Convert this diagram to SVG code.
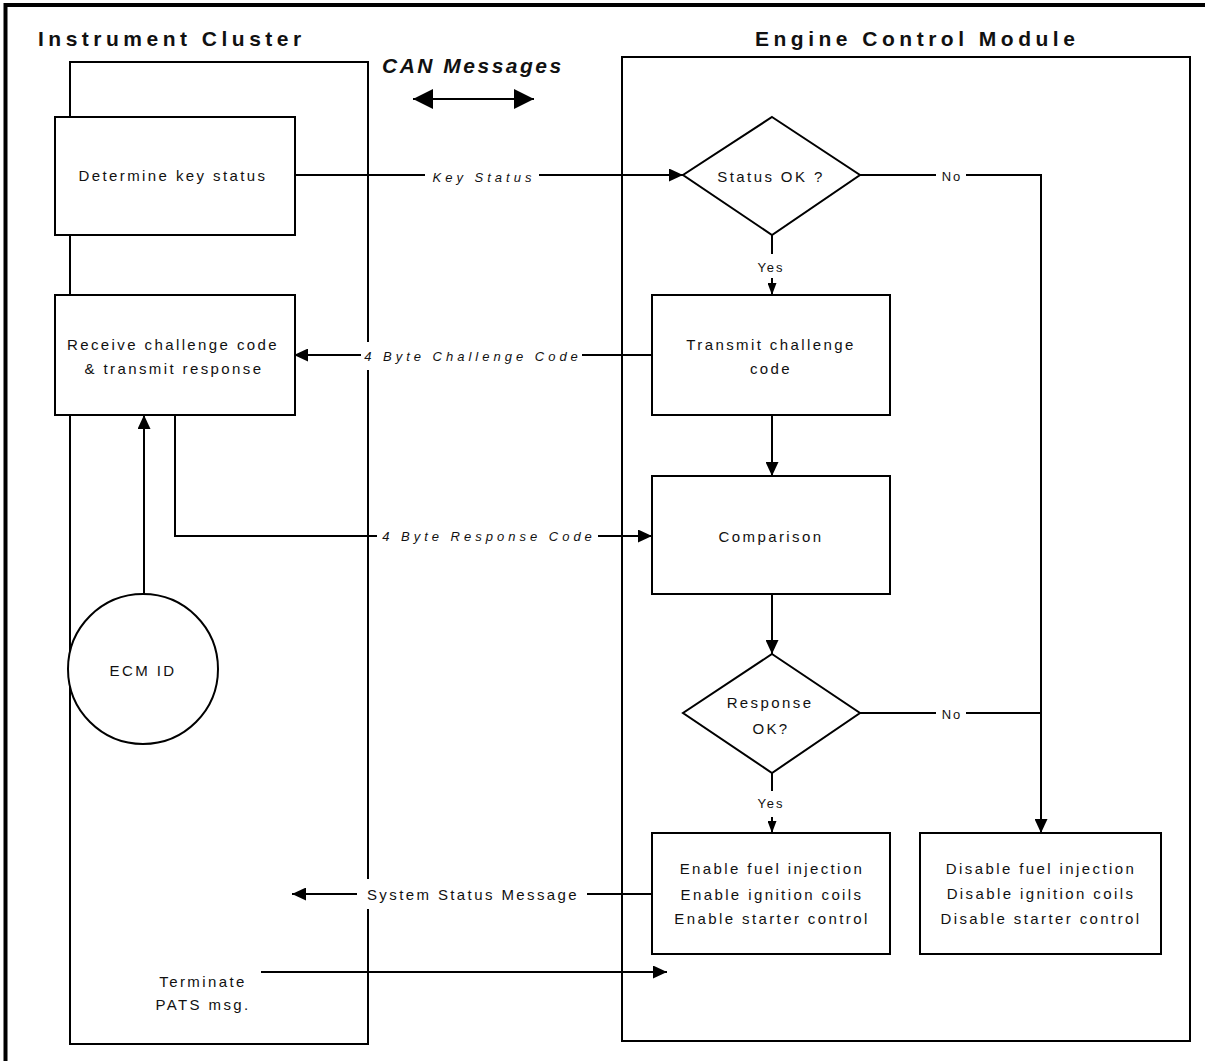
<svg xmlns="http://www.w3.org/2000/svg" width="1205" height="1061" viewBox="0 0 1205 1061">
<style>
  .box { fill: #fff; stroke: #000; stroke-width: 2; }
  .lane { fill: none; stroke: #000; stroke-width: 2; }
  .conn { fill: none; stroke: #000; stroke-width: 2; }
  .t { font-family: "Liberation Sans", Arial, sans-serif; font-size: 15px; letter-spacing: 2.4px; fill: #111; text-anchor: middle; }
  .lbl { font-family: "Liberation Sans", Arial, sans-serif; font-size: 13px; font-style: italic; letter-spacing: 4px; fill: #111; text-anchor: middle; }
  .yn { font-family: "Liberation Sans", Arial, sans-serif; font-size: 13px; letter-spacing: 2px; fill: #111; text-anchor: middle; }
  .title { font-family: "Liberation Sans", Arial, sans-serif; font-size: 21px; font-weight: bold; letter-spacing: 4.5px; fill: #111; }
  .bg { fill: #fff; stroke: none; }
</style>
<defs>
  <marker id="arr" markerUnits="userSpaceOnUse" markerWidth="14" markerHeight="13" refX="14" refY="6.5" orient="auto">
    <path d="M0,0 L14,6.5 L0,13 z" fill="#000"/>
  </marker>
  <marker id="arrS" markerUnits="userSpaceOnUse" markerWidth="12" markerHeight="9" refX="12" refY="4.5" orient="auto">
    <path d="M0,0 L12,4.5 L0,9 z" fill="#000"/>
  </marker>
  <marker id="arrB" markerUnits="userSpaceOnUse" markerWidth="20" markerHeight="20" refX="20" refY="10" orient="auto-start-reverse">
    <path d="M0,0 L20,10 L0,20 z" fill="#000"/>
  </marker>
</defs>

<rect width="1205" height="1061" fill="#fff"/>
<!-- outer frame (only top and left visible) -->
<path d="M5.5,1061 V5 H1205" fill="none" stroke="#000" stroke-width="4"/>

<!-- lanes -->
<g id="instrument-cluster">
  <rect class="lane" x="70" y="62" width="298" height="982"/>
  <text class="title" x="38" y="46">Instrument Cluster</text>
</g>
<g id="engine-control-module">
  <rect class="lane" x="622" y="57" width="568" height="984"/>
  <text class="title" x="755" y="46">Engine Control Module</text>
</g>
<g id="can-messages">
  <text x="382" y="73" font-family="Liberation Sans, Arial, sans-serif" font-size="21" font-weight="bold" font-style="italic" letter-spacing="2.5" fill="#111">CAN Messages</text>
</g>

<!-- connectors -->
<g id="connectors">
  <path class="conn" d="M413,99 H534" marker-start="url(#arrB)" marker-end="url(#arrB)"/>
  <path class="conn" d="M295,175 H683" marker-end="url(#arr)"/>
  <path class="conn" d="M860,175 H1041 V833" marker-end="url(#arr)"/>
  <path class="conn" d="M772,235 V295" marker-end="url(#arrS)"/>
  <path class="conn" d="M652,355 H294" marker-end="url(#arr)"/>
  <path class="conn" d="M175,415 V536 H652" marker-end="url(#arr)"/>
  <path class="conn" d="M144,594 V415" marker-end="url(#arr)"/>
  <path class="conn" d="M772,415 V476" marker-end="url(#arr)"/>
  <path class="conn" d="M772,594 V654" marker-end="url(#arr)"/>
  <path class="conn" d="M860,713 H1041"/>
  <path class="conn" d="M772,773 V833" marker-end="url(#arrS)"/>
  <path class="conn" d="M652,894 H292" marker-end="url(#arr)"/>
  <path class="conn" d="M261,972 H667" marker-end="url(#arr)"/>

  <!-- connector labels -->
  <rect class="bg" x="425" y="166" width="114" height="18"/>
  <text class="lbl" x="484" y="182">Key Status</text>

  <rect class="bg" x="936" y="166" width="30" height="18"/>
  <text class="yn" x="952" y="181">No</text>

  <rect class="bg" x="752" y="254" width="38" height="24"/>
  <text class="yn" x="771" y="272">Yes</text>

  <rect class="bg" x="361" y="342" width="221" height="28"/>
  <text class="lbl" x="473" y="361">4 Byte Challenge Code</text>

  <rect class="bg" x="377" y="527" width="221" height="18"/>
  <text class="lbl" x="489" y="541">4 Byte Response Code</text>

  <rect class="bg" x="936" y="704" width="30" height="18"/>
  <text class="yn" x="952" y="719">No</text>

  <rect class="bg" x="752" y="791" width="38" height="26"/>
  <text class="yn" x="771" y="808">Yes</text>

  <rect class="bg" x="357" y="879" width="230" height="30"/>
  <text class="t" x="473" y="900" letter-spacing="2.9">System Status Message</text>
</g>

<!-- nodes -->
<g id="determine-key-status">
  <rect class="box" x="55" y="117" width="240" height="118"/>
  <text class="t" x="173" y="181">Determine key status</text>
</g>
<g id="receive-challenge">
  <rect class="box" x="55" y="295" width="240" height="120"/>
  <text class="t" x="173" y="350">Receive challenge code</text>
  <text class="t" x="174" y="374">&amp; transmit response</text>
</g>
<g id="ecm-id">
  <circle cx="143" cy="669" r="75" fill="#fff" stroke="#000" stroke-width="2"/>
  <text class="t" x="143" y="676" letter-spacing="3.2">ECM ID</text>
</g>
<g id="status-ok">
  <path class="box" d="M772,117 L860,175 L772,235 L683,175 z"/>
  <text class="t" x="771" y="182">Status OK ?</text>
</g>
<g id="transmit-challenge">
  <rect class="box" x="652" y="295" width="238" height="120"/>
  <text class="t" x="771" y="350">Transmit challenge</text>
  <text class="t" x="771" y="374">code</text>
</g>
<g id="comparison">
  <rect class="box" x="652" y="476" width="238" height="118"/>
  <text class="t" x="771" y="542">Comparison</text>
</g>
<g id="response-ok">
  <path class="box" d="M772,654 L860,713 L772,773 L683,713 z"/>
  <text class="t" x="770" y="708">Response</text>
  <text class="t" x="771" y="734">OK?</text>
</g>
<g id="enable">
  <rect class="box" x="652" y="833" width="238" height="121"/>
  <text class="t" x="772" y="874">Enable fuel injection</text>
  <text class="t" x="772" y="900">Enable ignition coils</text>
  <text class="t" x="772" y="924">Enable starter control</text>
</g>
<g id="disable">
  <rect class="box" x="920" y="833" width="241" height="121"/>
  <text class="t" x="1041" y="874">Disable fuel injection</text>
  <text class="t" x="1041" y="899">Disable ignition coils</text>
  <text class="t" x="1041" y="924">Disable starter control</text>
</g>
<g id="terminate">
  <text class="t" x="203" y="987" letter-spacing="2.9">Terminate</text>
  <text class="t" x="203" y="1010" letter-spacing="2.9">PATS msg.</text>
</g>
</svg>
